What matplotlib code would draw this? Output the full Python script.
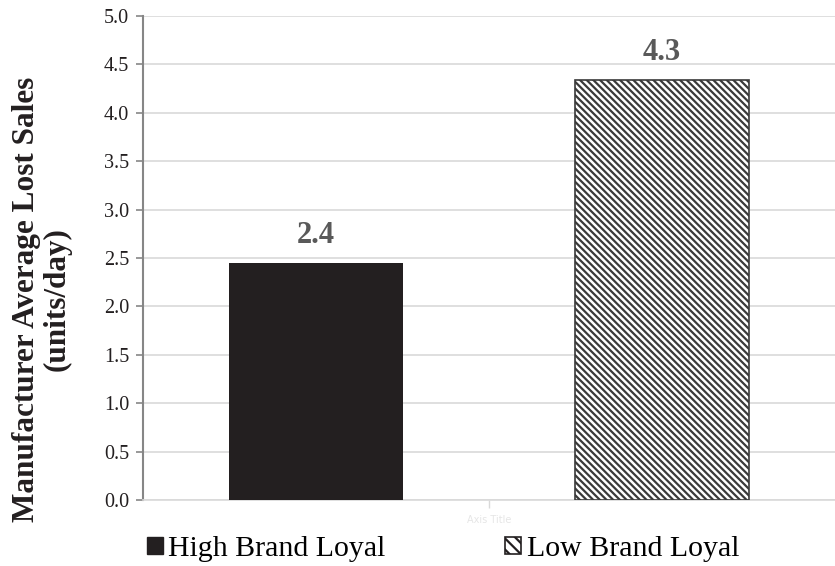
import matplotlib.pyplot as plt
from matplotlib.patches import Patch

categories = ['High Brand Loyal', 'Low Brand Loyal']
lost_sales = [2.45, 4.34]
value_labels = ['2.4', '4.3']
y_ticks = [0.0, 0.5, 1.0, 1.5, 2.0, 2.5, 3.0, 3.5, 4.0, 4.5, 5.0]

plt.rcParams['font.family'] = 'Liberation Serif'
plt.rcParams['hatch.linewidth'] = 1.6

fig = plt.figure(figsize=(8.35, 5.66), dpi=100)
ax = fig.add_axes([143 / 835, 66 / 566, 692 / 835, 484 / 566])

x = [0, 1]
bars = ax.bar(x, lost_sales, width=0.505,
              color=['#231f20', 'white'], edgecolor=['#231f20', '#3a3a3a'],
              linewidth=[0, 1.2], hatch=[None, '\\' * 5], zorder=3)

# etiquetas de valor sobre cada barra
for xi, v, lab in zip(x, lost_sales, value_labels):
    ax.annotate(lab, (xi, v), xytext=(0, 14), textcoords='offset points',
                ha='center', va='baseline', fontsize=22, fontweight='bold',
                color='#595959')

ax.set_xlim(-0.5, 1.5)
ax.set_ylim(0, 5.0)
ax.set_yticks(y_ticks)
ax.set_yticklabels([f'{t:.1f}' for t in y_ticks], fontsize=14.5, color='#231f20')
ax.yaxis.grid(True, color='#d9d9d9', linewidth=1.2, zorder=0)
ax.set_xticks([0.5])
ax.set_xticklabels([''])
ax.tick_params(axis='x', length=6, color='#d9d9d9', width=1)
ax.tick_params(axis='y', length=5, color='#868686', width=1.2, pad=5)

for s in ['top', 'right']:
    ax.spines[s].set_visible(False)
ax.spines['left'].set_color('#868686')
ax.spines['left'].set_linewidth(1.5)
ax.spines['bottom'].set_color('#d9d9d9')
ax.spines['bottom'].set_linewidth(1.2)

ax.text(0.5, -0.03, 'Axis Title', transform=ax.transAxes, ha='center',
        va='top', fontsize=7, color='#e6e6e6', family='DejaVu Sans')

ax.set_ylabel('Manufacturer Average Lost Sales\n(units/day)', fontsize=22.5,
              fontweight='bold', color='#231f20', linespacing=1.1)
ax.yaxis.set_label_coords(-0.1026, 0.415)

handles = [Patch(facecolor='#231f20', edgecolor='#231f20', label=categories[0]),
           Patch(facecolor='white', edgecolor='#231f20', linewidth=1.2,
                 hatch='\\\\\\', label=categories[1])]
fig.legend(handles=handles, loc='center left', bbox_to_anchor=(147 / 835, 1 - 549 / 566),
           ncol=2, frameon=False, fontsize=21.5, handlelength=0.52, handleheight=0.52,
           handletextpad=0.2, columnspacing=4.0, borderpad=0, borderaxespad=0)

fig.savefig('out.png', dpi=100)
